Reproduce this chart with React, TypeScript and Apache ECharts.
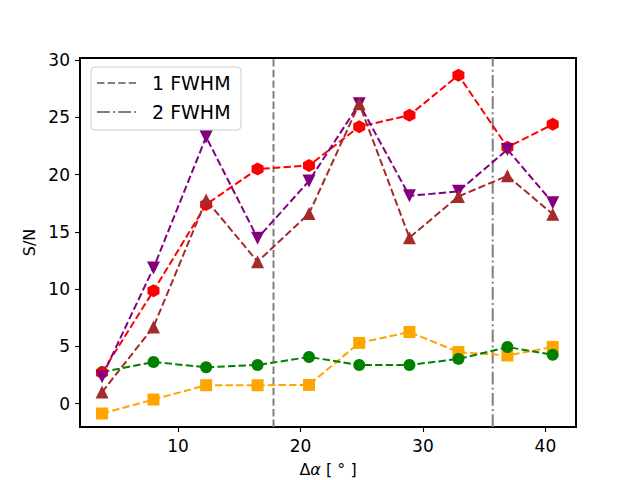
import React, { useEffect, useRef } from "react";
import * as echarts from "echarts";

const xs = [3.8, 8.0, 12.3, 16.5, 20.7, 24.8, 28.9, 32.9, 36.9, 40.6];
const redVals = [2.7, 9.85, 17.4, 20.5, 20.8, 24.2, 25.2, 28.7, 22.4, 24.4];
const purpleVals = [2.35, 11.85, 23.3, 14.45, 19.45, 26.2, 18.15, 18.55, 22.2, 17.55];
const brownVals = [1.0, 6.7, 17.8, 12.4, 16.6, 26.2, 14.5, 18.1, 19.9, 16.55];
const greenVals = [2.75, 3.63, 3.17, 3.37, 4.07, 3.37, 3.37, 3.9, 4.94, 4.27];
const orangeVals = [-0.87, 0.35, 1.6, 1.6, 1.63, 5.3, 6.25, 4.5, 4.2, 4.95];
const fwhmLines = [17.8, 35.7];
const fwhmLabels = ["1 FWHM", "2 FWHM"];
const xTicks = [10, 20, 30, 40];
const yTicks = [0, 5, 10, 15, 20, 25, 30];

const FONT = "DejaVu Sans";
const HEX = "path://M0,-1 L0.866,-0.5 L0.866,0.5 L0,1 L-0.866,0.5 L-0.866,-0.5 Z";
const LW = 2;
const DASH = [7.4, 3.2];
const DASHDOT = [12.8, 3.2, 2, 3.2];

function pairs(vals: number[]) {
  return xs.map((x, i) => [x, vals[i]]);
}

function dataSeries(name: string, vals: number[], color: string, symbol: string, size: any, rotate = 0, z = 2) {
  return {
    type: "line",
    name,
    data: pairs(vals),
    symbol,
    symbolSize: size,
    symbolRotate: rotate,
    symbolKeepAspect: false,
    showAllSymbol: true,
    z,
    lineStyle: { color, width: LW, type: DASH },
    itemStyle: { color, borderWidth: 0 },
    emphasis: { disabled: true },
  };
}

export default function App() {
  const ref = useRef<HTMLDivElement>(null);
  useEffect(() => {
    if (!ref.current) return;
    const chart = echarts.init(ref.current, null, { renderer: "svg" });
    const yMin = -2.05;
    const yMax = 30.2;
    const option: any = {
      animation: false,
      backgroundColor: "#fff",
      textStyle: { fontFamily: FONT },
      grid: {
        left: 80,
        top: 58,
        right: 64,
        bottom: 53,
        containLabel: false,
        outerBoundsMode: "none",
        show: true,
        borderColor: "#000",
        borderWidth: 2,
        backgroundColor: "transparent",
      },
      xAxis: {
        type: "value",
        min: 2.0,
        max: 42.5,
        name: "Δ{i|α} [ ° ]",
        nameLocation: "middle",
        nameGap: 34,
        nameTextStyle: {
          fontSize: 16,
          color: "#000",
          fontFamily: FONT,
          rich: { i: { fontStyle: "italic", fontSize: 16, fontFamily: FONT, color: "#000" } },
        },
        splitLine: { show: false },
        axisLine: { show: true, onZero: false, lineStyle: { color: "#000", width: 2 } },
        axisTick: { show: true, customValues: xTicks, length: 5, lineStyle: { color: "#000", width: 1.1 } },
        axisLabel: { customValues: xTicks, fontSize: 17, color: "#000", margin: 10, fontFamily: FONT },
      },
      yAxis: {
        type: "value",
        min: yMin,
        max: yMax,
        name: "S/N",
        nameLocation: "middle",
        nameGap: 41,
        nameTextStyle: { fontSize: 16, color: "#000", fontFamily: FONT },
        splitLine: { show: false },
        axisLine: { show: true, onZero: false, lineStyle: { color: "#000", width: 2 } },
        axisTick: { show: true, customValues: yTicks, length: 5, lineStyle: { color: "#000", width: 1.1 } },
        axisLabel: { customValues: yTicks, fontSize: 17, color: "#000", margin: 10, fontFamily: FONT },
      },
      series: [
        {
          type: "line",
          name: fwhmLabels[0],
          data: [[fwhmLines[0], yMin], [fwhmLines[0], yMax]],
          symbol: "none",
          z: 1,
          lineStyle: { color: "#808080", width: LW, type: DASH },
          emphasis: { disabled: true },
        },
        {
          type: "line",
          name: fwhmLabels[1],
          data: [[fwhmLines[1], yMin], [fwhmLines[1], yMax]],
          symbol: "none",
          z: 1,
          lineStyle: { color: "#808080", width: LW, type: DASHDOT },
          emphasis: { disabled: true },
        },
        dataSeries("orange", orangeVals, "#ffa500", "rect", 12, 0, 2),
        dataSeries("green", greenVals, "#008000", "circle", 12, 0, 3),
        dataSeries("red", redVals, "#ff0000", HEX, [12, 13], 0, 4),
        dataSeries("purple", purpleVals, "#800080", "triangle", 13, 180, 5),
        dataSeries("brown", brownVals, "#a52a2a", "triangle", 13, 0, 6),
      ],
      graphic: [
        {
          type: "group",
          z: 100,
          children: [
            {
              type: "rect",
              shape: { x: 91, y: 67, width: 150, height: 63, r: 4 },
              style: { fill: "rgba(255,255,255,0.8)", stroke: "#cccccc", lineWidth: 1 },
            },
            {
              type: "line",
              shape: { x1: 97, y1: 83, x2: 136, y2: 83 },
              style: { stroke: "#808080", lineWidth: LW, lineDash: DASH },
            },
            {
              type: "line",
              shape: { x1: 97, y1: 112, x2: 136, y2: 112 },
              style: { stroke: "#808080", lineWidth: LW, lineDash: DASHDOT },
            },
            {
              type: "text",
              x: 152,
              y: 83,
              style: { text: fwhmLabels[0], font: `19px "${FONT}"`, fill: "#000", verticalAlign: "middle", align: "left" },
            },
            {
              type: "text",
              x: 152,
              y: 112,
              style: { text: fwhmLabels[1], font: `19px "${FONT}"`, fill: "#000", verticalAlign: "middle", align: "left" },
            },
          ],
        },
      ],
    };
    chart.setOption(option);
    return () => chart.dispose();
  }, []);
  return (
    <div
      ref={ref}
      style={{ position: "fixed", left: 0, top: 0, width: 640, height: 480, background: "#fff" }}
    />
  );
}
